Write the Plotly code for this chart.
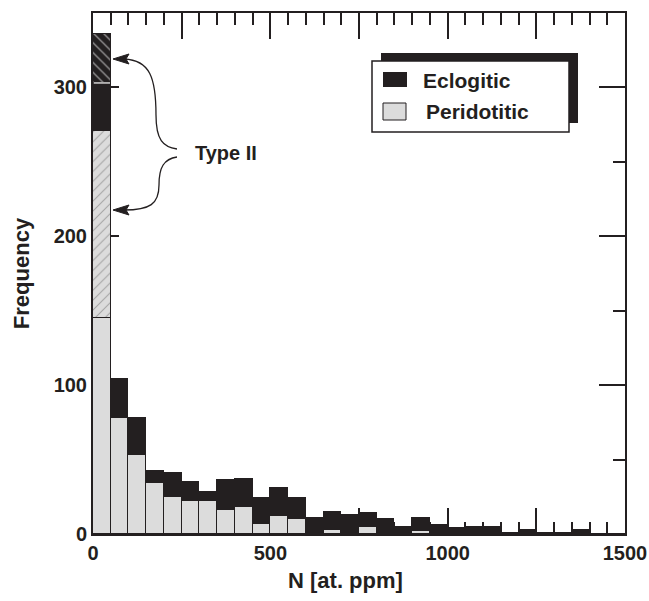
import plotly.graph_objects as go

# ---------------- data ----------------
bin_start = list(range(0, 1500, 50))          # bin left edges, N [at. ppm]
bin_width = 50
peridotitic = [145, 78, 53, 34, 25, 22, 22, 16, 18, 7, 12, 10, 0, 3, 1,
               5, 1, 0, 2, 0, 0, 0, 1, 0, 0, 0, 0, 0, 0, 0]
eclogitic = [32, 26, 25, 8, 16, 13, 6, 20, 19, 17, 19, 14, 11, 12, 12,
             9, 9, 5, 9, 6, 4, 5, 4, 1, 3, 1, 1, 3, 0, 0]
type2_bins = [0]
type2_peridotitic = [126]
type2_eclogitic = [33]

x_tickvals = [0, 250, 500, 750, 1000, 1250, 1500]
x_ticktext = ["0", "", "500", "", "1000", "", "1500"]

# ---------------- style ----------------
INK = "#231f20"
GRAY = "#dcdcdc"
FONT = "Liberation Sans"

# plot area in pixels
L, R, T, B = 93, 625, 13, 534
W, H = 649, 601


def px(x):
    return (x - L) / (R - L)


def py(y):
    return (B - y) / (B - T)


def path(cmds):
    out = []
    for c in cmds:
        if isinstance(c, str):
            out.append(c)
        else:
            out.append(f"{px(c[0]):.5f},{py(c[1]):.5f}")
    return " ".join(out)


centers = [s + bin_width / 2 for s in bin_start]
t2_centers = [s + bin_width / 2 for s in type2_bins]

fig = go.Figure()
fig.add_trace(go.Bar(x=centers, y=peridotitic, width=bin_width, name="Peridotitic",
                     marker=dict(color=GRAY, line=dict(color=INK, width=1))))
fig.add_trace(go.Bar(x=t2_centers, y=type2_peridotitic, width=bin_width, name="Peridotitic Type II",
                     marker=dict(color=GRAY, line=dict(color=INK, width=1),
                                 pattern=dict(shape="/", fgcolor="#6a6a6a", bgcolor=GRAY,
                                              size=7, solidity=0.15))))
fig.add_trace(go.Bar(x=centers, y=eclogitic, width=bin_width, name="Eclogitic",
                     marker=dict(color=INK, line=dict(color=INK, width=1))))
fig.add_trace(go.Bar(x=t2_centers, y=type2_eclogitic, width=bin_width, name="Eclogitic Type II",
                     marker=dict(color=INK, line=dict(color=INK, width=1),
                                 pattern=dict(shape="\\", fgcolor="#ffffff", bgcolor=INK,
                                              size=7, solidity=0.2))))

tickfont = dict(family=FONT, size=20, color=INK, weight="bold")
axis_common = dict(showline=True, linewidth=2, linecolor=INK, mirror="ticks",
                   ticks="inside", ticklen=26, tickwidth=1.5, tickcolor=INK,
                   showgrid=False, zeroline=False, layer="below traces",
                   tickfont=tickfont, automargin=False)

fig.update_layout(
    width=W, height=H,
    margin=dict(l=L, r=W - R, t=T, b=H - B, pad=0),
    paper_bgcolor="white", plot_bgcolor="white",
    barmode="stack", bargap=0, showlegend=False,
    xaxis=dict(range=[0, 1500], tickmode="array", tickvals=x_tickvals, ticktext=x_ticktext,
               minor=dict(dtick=50, tick0=0, ticks="inside", ticklen=12, tickwidth=1.5,
                          tickcolor=INK, showgrid=False),
               **axis_common),
    yaxis=dict(range=[0, 350], tickmode="linear", tick0=0, dtick=100,
               minor=dict(dtick=50, tick0=0, ticks="inside", ticklen=12, tickwidth=1.5,
                          tickcolor=INK, showgrid=False),
               title=dict(text="Frequency", font=dict(family=FONT, size=22, color=INK, weight="bold"),
                          standoff=18),
               **axis_common),
)

shapes = []
# legend shadow + box
shapes.append(dict(type="rect", xref="paper", yref="paper", x0=px(381), x1=px(578), y0=py(53), y1=py(123),
                   fillcolor=INK, line=dict(width=0), layer="above"))
shapes.append(dict(type="rect", xref="paper", yref="paper", x0=px(372), x1=px(569), y0=py(61), y1=py(132),
                   fillcolor="white", line=dict(color=INK, width=1.5), layer="above"))
shapes.append(dict(type="rect", xref="paper", yref="paper", x0=px(383), x1=px(407), y0=py(72), y1=py(87),
                   fillcolor=INK, line=dict(width=0), layer="above"))
shapes.append(dict(type="rect", xref="paper", yref="paper", x0=px(383), x1=px(406), y0=py(103), y1=py(120),
                   fillcolor=GRAY, line=dict(color=INK, width=1), layer="above"))
# braces
shapes.append(dict(type="path", xref="paper", yref="paper", layer="above",
                   line=dict(color=INK, width=1.3),
                   path=path(["M", (177, 149), "C", (163, 147), (156, 140), (156, 115),
                              "C", (156, 78), (150, 60), (124, 59)])))
shapes.append(dict(type="path", xref="paper", yref="paper", layer="above",
                   line=dict(color=INK, width=1.3),
                   path=path(["M", (177, 157), "C", (164, 159), (159, 167), (159, 185),
                              "C", (159, 204), (150, 210), (124, 210)])))
# arrowheads
for yy in (59, 210):
    shapes.append(dict(type="path", xref="paper", yref="paper", layer="above",
                       fillcolor=INK, line=dict(color=INK, width=1),
                       path=path(["M", (113, yy), "L", (129, yy - 5), "L", (126, yy),
                                  "L", (129, yy + 5), "Z"])))
# thin white separator between eclogitic and its Type II part
shapes.append(dict(type="line", xref="x", yref="y", x0=type2_bins[0] + 2, x1=type2_bins[0] + bin_width - 2,
                   y0=peridotitic[0] + type2_peridotitic[0] + eclogitic[0],
                   y1=peridotitic[0] + type2_peridotitic[0] + eclogitic[0],
                   line=dict(color="white", width=1.2), layer="above"))
fig.update_layout(shapes=shapes)

txtfont = dict(family=FONT, size=21, color=INK, weight="bold")
annotations = [
    dict(text="Eclogitic", x=px(421), y=py(80), xref="paper", yref="paper",
         xanchor="left", yanchor="middle", showarrow=False, font=txtfont),
    dict(text="Peridotitic", x=px(424), y=py(112), xref="paper", yref="paper",
         xanchor="left", yanchor="middle", showarrow=False, font=txtfont),
    dict(text="Type II", x=px(226), y=py(153), xref="paper", yref="paper",
         xanchor="center", yanchor="middle", showarrow=False,
         font=dict(family=FONT, size=20, color=INK, weight="bold")),
    dict(text="N [at. ppm]", x=px(345), y=py(580), xref="paper", yref="paper",
         xanchor="center", yanchor="middle", showarrow=False,
         font=dict(family=FONT, size=22, color=INK, weight="bold")),
]
fig.update_layout(annotations=annotations)

fig.write_html("out.html")
